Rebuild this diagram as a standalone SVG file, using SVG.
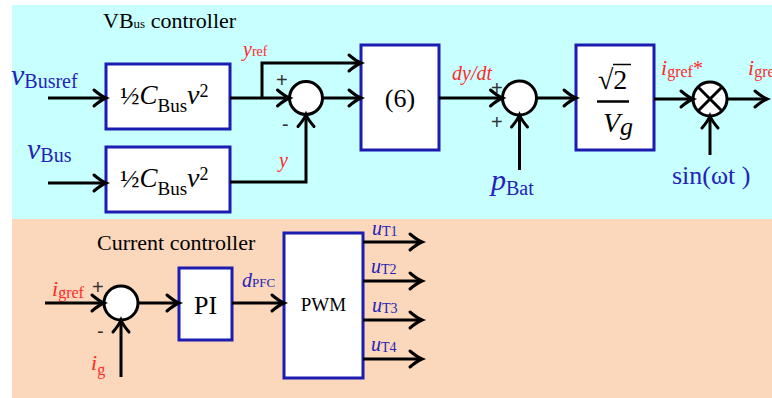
<svg xmlns="http://www.w3.org/2000/svg" width="772" height="398" viewBox="0 0 772 398">
<defs>
<style>
.blk{fill:#fff;stroke:#1c1cb0;stroke-width:3}
.sum{fill:#fff;stroke:#000;stroke-width:3}
.ln{fill:none;stroke:#000;stroke-width:3}
.w{stroke-linejoin:miter}
.t{font-family:"Liberation Serif","Times New Roman",serif;fill:#000}
.b{fill:#2323b8}
.r{fill:#ff2a2a}
.i{font-style:italic}
.g{fill:#333;font-family:"Liberation Sans",Arial,sans-serif;font-size:20px}
</style>
<marker id="arr" markerUnits="userSpaceOnUse" orient="auto" markerWidth="20" markerHeight="20" viewBox="-15 -10 20 20" refX="0" refY="0" overflow="visible">
<path d="M-12,-8 Q-5,-2 0,0 Q-5,2 -12,8" fill="none" stroke="#000" stroke-width="3" stroke-linecap="round"/>
</marker>
</defs>

<rect x="12" y="5" width="760" height="214" fill="#c8ffff"/>
<rect x="12" y="219" width="760" height="179" fill="#fbd7bb"/>

<text class="t" x="103" y="28" font-size="22">V<tspan font-size="22">B</tspan><tspan font-size="13">us</tspan> controller</text>
<text class="t" x="97" y="250" font-size="22">Current controller</text>

<!-- top inputs labels -->
<text class="t b" x="11" y="85"><tspan class="i" font-size="30">v</tspan><tspan font-size="20" dy="3">Busref</tspan></text>
<text class="t b" x="27" y="159"><tspan class="i" font-size="30">v</tspan><tspan font-size="20" dy="3">Bus</tspan></text>

<g id="blk1">
<rect class="blk" x="106" y="64" width="124" height="65"/>
<text class="t" y="104"><tspan x="120" font-size="26">½</tspan><tspan class="i" font-size="27">C</tspan><tspan font-size="19" dy="8">Bus</tspan><tspan class="i" font-size="28" dy="-8">v</tspan><tspan font-size="18" dy="-7">2</tspan></text>
</g>
<g id="blk2">
<rect class="blk" x="106" y="147" width="124" height="65"/>
<text class="t" y="187"><tspan x="120" font-size="26">½</tspan><tspan class="i" font-size="27">C</tspan><tspan font-size="19" dy="8">Bus</tspan><tspan class="i" font-size="28" dy="-8">v</tspan><tspan font-size="18" dy="-7">2</tspan></text>
</g>
<g id="sum1">
<circle class="sum" cx="306" cy="98" r="16.5"/>
<text class="g" x="276" y="86.5">+</text>
<text class="g" x="282" y="131">-</text>
</g>
<g id="blk6">
<rect class="blk" x="361" y="45" width="78" height="105"/>
<text class="t" x="400" y="107" font-size="26" text-anchor="middle">(6)</text>
</g>
<g id="sum2">
<circle class="sum" cx="519.5" cy="98" r="17"/>
<text class="g" x="491" y="95">+</text>
<text class="g" x="491" y="129">+</text>
</g>
<g id="blkV">
<rect class="blk" x="576" y="45" width="78" height="105"/>
<text class="t" x="598" y="89" font-size="28">√2</text>
<line x1="613" y1="64.5" x2="631" y2="64.5" stroke="#000" stroke-width="1.5"/>
<line x1="597" y1="101.5" x2="629" y2="101.5" stroke="#000" stroke-width="2.5"/>
<text class="t i" x="603" y="132" font-size="28">V<tspan font-size="26" dy="3">g</tspan></text>
</g>
<g id="mult">
<circle class="sum" cx="710" cy="99" r="17"/>
<path class="ln" d="M698,87 L722,111 M722,87 L698,111" stroke-width="2.5"/>
</g>

<!-- top labels -->
<text class="t r" x="243" y="56"><tspan class="i" font-size="20">y</tspan><tspan font-size="14">ref</tspan></text>
<text class="t r i" x="279" y="167" font-size="20">y</text>
<text class="t r i" x="452" y="80" font-size="20">dy/dt</text>
<text class="t b" x="491" y="190"><tspan class="i" font-size="30">p</tspan><tspan font-size="20" dy="5">Bat</tspan></text>
<text class="t r" x="661" y="75"><tspan class="i" font-size="22">i</tspan><tspan font-size="16" dy="2">gref</tspan><tspan font-size="20" dy="-2">*</tspan></text>
<text class="t r" x="748" y="75"><tspan class="i" font-size="22">i</tspan><tspan font-size="16" dy="2">gref</tspan></text>
<text class="t b" x="672" y="184" font-size="26">sin(ωt )</text>

<!-- lower nodes -->
<g id="sum3">
<circle class="sum" cx="121" cy="303" r="17"/>
<text class="g" x="92" y="294">+</text>
<text class="g" x="97" y="338">-</text>
</g>
<g id="pi">
<rect class="blk" x="179" y="268" width="53" height="72"/>
<text class="t" x="205.5" y="314" font-size="26" text-anchor="middle">PI</text>
</g>
<g id="pwm">
<rect class="blk" x="284" y="233" width="79" height="145"/>
<text class="t" x="323.5" y="311" font-size="19" text-anchor="middle">PWM</text>
</g>

<!-- lower labels -->
<text class="t r" x="52" y="296"><tspan class="i" font-size="22">i</tspan><tspan font-size="16" dy="2">gref</tspan></text>
<text class="t r" x="91" y="370"><tspan class="i" font-size="22">i</tspan><tspan font-size="16" dy="5">g</tspan></text>
<text class="t b" x="242" y="287"><tspan class="i" font-size="20">d</tspan><tspan font-size="13">PFC</tspan></text>
<text class="t b" x="372" y="235"><tspan class="i" font-size="20">u</tspan><tspan font-size="14" dy="1">T1</tspan></text>
<text class="t b" x="371" y="273"><tspan class="i" font-size="20">u</tspan><tspan font-size="14" dy="1">T2</tspan></text>
<text class="t b" x="372" y="312"><tspan class="i" font-size="20">u</tspan><tspan font-size="14" dy="1">T3</tspan></text>
<text class="t b" x="371" y="351"><tspan class="i" font-size="20">u</tspan><tspan font-size="14" dy="1">T4</tspan></text>

<g id="connectors" class="ln w">
<path d="M48,98 H106" marker-end="url(#arr)"/>
<path d="M48,183 H106" marker-end="url(#arr)"/>
<path d="M230,98 H289.5" marker-end="url(#arr)"/>
<path d="M262,98 V63 H361" marker-end="url(#arr)"/>
<path d="M322.5,98 H361" marker-end="url(#arr)"/>
<path d="M230,182 H306 V114.5" marker-end="url(#arr)"/>
<path d="M439,98 H502.5" marker-end="url(#arr)"/>
<path d="M519.5,170 V115" marker-end="url(#arr)"/>
<path d="M536.5,98 H576" marker-end="url(#arr)"/>
<path d="M654,99 H693" marker-end="url(#arr)"/>
<path d="M727,99 H767" marker-end="url(#arr)"/>
<path d="M710,155 V116" marker-end="url(#arr)"/>
<path d="M45,303 H104" marker-end="url(#arr)"/>
<path d="M121,377 V320" marker-end="url(#arr)"/>
<path d="M138,303 H179" marker-end="url(#arr)"/>
<path d="M232,303 H284" marker-end="url(#arr)"/>
<path d="M363,242 H422" marker-end="url(#arr)"/>
<path d="M363,281 H422" marker-end="url(#arr)"/>
<path d="M363,320 H422" marker-end="url(#arr)"/>
<path d="M363,359 H422" marker-end="url(#arr)"/>
</g>
</svg>
